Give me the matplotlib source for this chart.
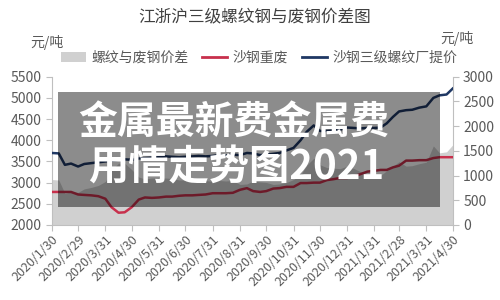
import pandas as pd
import numpy as np
import matplotlib.pyplot as plt
from matplotlib.patches import Rectangle, Patch
from matplotlib.lines import Line2D

plt.rcParams['font.family'] = ['Noto Sans CJK SC', 'DejaVu Sans']

TITLE = '江浙沪三级螺纹钢与废钢价差图'
UNIT = '元/吨'
SERIES_NAMES = ['螺纹与废钢价差', '沙钢重废', '沙钢三级螺纹厂提价']

dates = [
    '2020-01-30', '2020-02-07', '2020-02-14', '2020-02-21', '2020-02-29',
    '2020-03-07', '2020-03-15', '2020-03-23', '2020-03-31',
    '2020-04-07', '2020-04-15', '2020-04-22', '2020-04-30',
    '2020-05-08', '2020-05-15', '2020-05-23', '2020-05-31',
    '2020-06-08', '2020-06-15', '2020-06-23', '2020-06-30',
    '2020-07-08', '2020-07-15', '2020-07-23', '2020-07-31',
    '2020-08-08', '2020-08-15', '2020-08-23', '2020-08-31',
    '2020-09-08', '2020-09-15', '2020-09-23', '2020-09-30',
    '2020-10-08', '2020-10-15', '2020-10-23', '2020-10-31',
    '2020-11-08', '2020-11-15', '2020-11-23', '2020-11-30',
    '2020-12-08', '2020-12-15', '2020-12-23', '2020-12-31',
    '2021-01-08', '2021-01-15', '2021-01-23', '2021-01-31',
    '2021-02-07', '2021-02-14', '2021-02-21', '2021-02-28',
    '2021-03-08', '2021-03-15', '2021-03-23', '2021-03-31',
    '2021-04-08', '2021-04-15', '2021-04-23', '2021-04-30',
]

# 沙钢三级螺纹厂提价 (left axis)
rebar = [
    3700, 3690, 3420, 3450, 3380,
    3440, 3460, 3480, 3500,
    3520, 3540, 3550, 3540,
    3570, 3580, 3590, 3600,
    3620, 3610, 3600, 3610,
    3620, 3630, 3620, 3630,
    3650, 3640, 3660, 3650,
    3700, 3690, 3650, 3660,
    3680, 3700, 3760, 3820,
    4000, 4200, 4350, 4220,
    4220, 4230, 4250, 4300,
    4290, 4280, 4290, 4290,
    4300, 4400, 4550, 4680,
    4710, 4720, 4770, 4800,
    5000, 5060, 5080, 5220,
]

# 沙钢重废 (left axis)
scrap = [
    2780, 2780, 2780, 2780, 2720,
    2710, 2700, 2680, 2620,
    2420, 2290, 2300, 2420,
    2600, 2650, 2640, 2650,
    2670, 2670, 2690, 2700,
    2700, 2710, 2720, 2750,
    2750, 2750, 2760, 2830,
    2870, 2800, 2780, 2800,
    2860, 2870, 2900, 2900,
    2990, 2990, 3000, 3000,
    3060, 3080, 3110, 3110,
    3150, 3200, 3260, 3280,
    3300, 3300, 3360, 3400,
    3520, 3520, 3530, 3530,
    3580, 3600, 3600, 3600,
]

# 螺纹与废钢价差 (right axis)
spread = [
    920, 910, 640, 670, 660,
    730, 760, 800, 880,
    1100, 1250, 1250, 1120,
    970, 930, 950, 950,
    950, 940, 910, 910,
    920, 920, 900, 880,
    900, 890, 900, 820,
    830, 890, 870, 860,
    820, 830, 860, 920,
    1010, 1210, 1350, 1220,
    1160, 1150, 1140, 1190,
    1140, 1080, 1030, 1010,
    1000, 1100, 1190, 1280,
    1190, 1200, 1240, 1270,
    1600, 1460, 1480, 1620,
]

tick_dates = [
    '2020-01-30', '2020-02-29', '2020-03-31', '2020-04-30', '2020-05-31',
    '2020-06-30', '2020-07-31', '2020-08-31', '2020-09-30', '2020-10-31',
    '2020-11-30', '2020-12-31', '2021-01-31', '2021-02-28', '2021-03-31',
    '2021-04-30',
]
tick_labels = [d.replace('-0', '/').replace('-', '/') for d in tick_dates]

WATERMARK = ['金属最新费金属费', '用情走势图2021']

TEXT_C = '#595959'
AXIS_C = '#bfbfbf'


def main():
    x = pd.to_datetime(dates)

    fig = plt.figure(figsize=(5, 3), dpi=100)
    ax = fig.add_axes([0.1034, 0.25, 0.802, 0.4943])

    # gray area on the right axis
    ax.fill_between(x, 0, spread, color='#d0d0d0', lw=0)
    ax.set_ylim(0, 3000)
    ax.set_yticks(np.arange(0, 3001, 500))

    ax2 = ax.twinx()
    ax2.plot(x, scrap, color='#c8304c', lw=1.8)
    ax2.plot(x, rebar, color='#1f3864', lw=1.8)
    ax2.set_ylim(2000, 5500)
    ax2.set_yticks(np.arange(2000, 5501, 500))

    ax.yaxis.tick_right()
    ax2.yaxis.tick_left()

    ax.set_xlim(x[0], x[-1])
    ax.set_xticks(pd.to_datetime(tick_dates))
    ax.set_xticklabels(tick_labels, rotation=45, ha='right',
                       rotation_mode='anchor', fontsize=9, color=TEXT_C)

    for a in (ax, ax2):
        for s in a.spines.values():
            s.set_visible(False)
        a.tick_params(colors=AXIS_C, labelcolor=TEXT_C, labelsize=10,
                      length=4, width=0.8)
    ax.tick_params(axis='x', labelsize=9, pad=2)
    for s in ('bottom', 'left', 'right'):
        ax.spines[s].set_visible(True)
        ax.spines[s].set_color(AXIS_C)
        ax.spines[s].set_linewidth(0.8)

    # title, units, legend
    fig.text(0.51, 1 - 17 / 300, TITLE, ha='center', va='center',
             fontsize=12, color='#404040')
    fig.text(30 / 500, 1 - 43 / 300, UNIT, ha='left', va='center',
             fontsize=10, color=TEXT_C)
    fig.text(440 / 500, 1 - 38 / 300, UNIT, ha='left', va='center',
             fontsize=10, color=TEXT_C)

    handles = [Patch(facecolor='#d0d0d0', edgecolor='none'),
               Line2D([], [], color='#c8304c', lw=2),
               Line2D([], [], color='#1f3864', lw=2)]
    fig.legend(handles, SERIES_NAMES, ncol=3, loc='center',
               bbox_to_anchor=(0.518, 1 - 58 / 300), frameon=False,
               fontsize=10, handlelength=1.8, handletextpad=0.4,
               columnspacing=1.0, labelcolor=TEXT_C)

    # watermark overlay
    fig.add_artist(Rectangle((58 / 500, 1 - 207 / 300), 382 / 500, 115 / 300,
                             transform=fig.transFigure, facecolor='black',
                             alpha=0.45, lw=0, zorder=2))
    fig.text(78 / 500, 1 - 122 / 300, WATERMARK[0], ha='left', va='center',
             fontsize=28, fontweight='bold', color='white', zorder=3)
    fig.text(88 / 500, 1 - 168 / 300, WATERMARK[1], ha='left', va='center',
             fontsize=29, fontweight='bold', color='white', zorder=3)

    fig.savefig('out.png', dpi=100)


if __name__ == '__main__':
    main()
